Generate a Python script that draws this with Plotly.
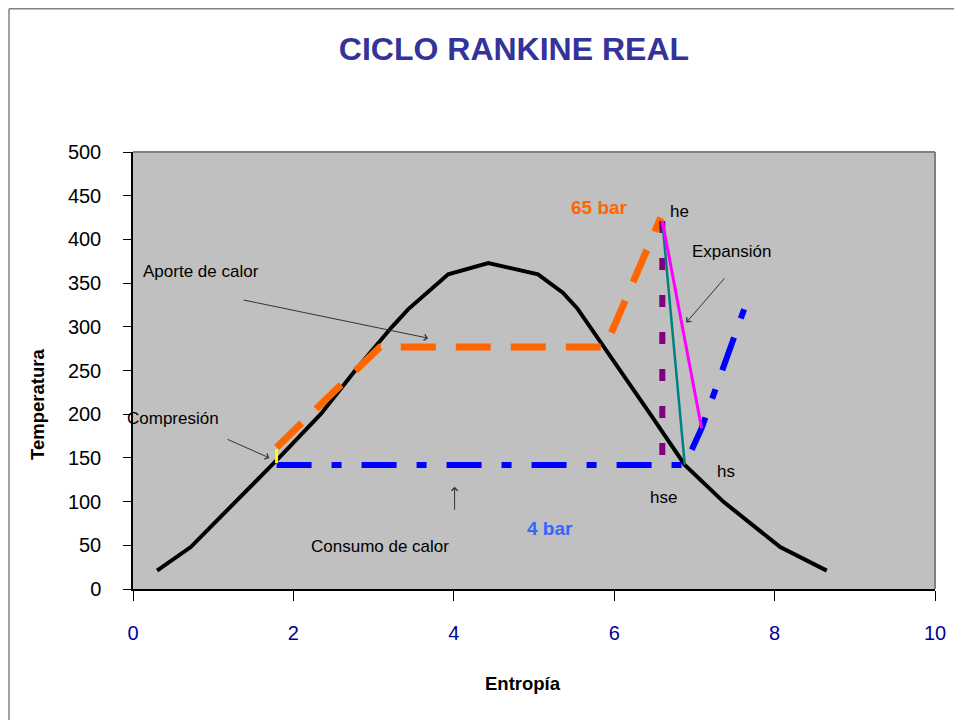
import plotly.graph_objects as go

# ---- data ----
sat_s = [0.30, 0.72, 1.28, 1.82, 2.34, 2.77, 3.23, 3.43, 3.93, 4.43, 5.05, 5.36, 5.54, 5.70, 6.07, 6.45, 6.88, 7.36, 8.07, 8.65]
sat_T = [21, 48, 100, 150, 200, 250, 300, 320, 360, 373, 360, 339, 321, 300, 250, 200, 142, 100, 48, 21]

comp_s = [1.79, 1.79]
comp_T = [144, 160]

heat_s = [1.79, 3.08, 5.89, 6.58]
heat_T = [162, 277, 277, 425]

isen_s = [6.60, 6.60]
isen_T = [421, 145]

teal_s = [6.60, 6.88]
teal_T = [421, 142]

mag_s = [6.60, 7.09]
mag_T = [421, 184]

cond_s = [1.79, 6.88, 7.09, 7.67]
cond_T = [142, 142, 184, 333]

x_ticks = [0, 2, 4, 6, 8, 10]
y_ticks = [0, 50, 100, 150, 200, 250, 300, 350, 400, 450, 500]

FONT = "Liberation Sans, Arial, sans-serif"

fig = go.Figure()
fig.add_trace(go.Scatter(x=sat_s, y=sat_T, mode="lines", line=dict(color="black", width=4)))
fig.add_trace(go.Scatter(x=heat_s, y=heat_T, mode="lines", line=dict(color="#FF6600", width=7, dash="35px,20px")))
fig.add_trace(go.Scatter(x=cond_s, y=cond_T, mode="lines", line=dict(color="#0000FF", width=6, dash="35px,20px,10px,20px")))
fig.add_trace(go.Scatter(x=isen_s, y=isen_T, mode="lines", line=dict(color="#800080", width=6, dash="12px,25px")))
fig.add_trace(go.Scatter(x=teal_s, y=teal_T, mode="lines", line=dict(color="#008080", width=2.5)))
fig.add_trace(go.Scatter(x=mag_s, y=mag_T, mode="lines", line=dict(color="#FF00FF", width=3)))
fig.add_trace(go.Scatter(x=comp_s, y=comp_T, mode="lines", line=dict(color="#FFFF00", width=3)))

ann = []
def txt(x, y, t, size=17, color="#000000", bold=False, xanchor="center", xref="x", yref="y"):
    ann.append(dict(x=x, y=y, xref=xref, yref=yref, text=("<b>%s</b>" % t) if bold else t,
                    showarrow=False, xanchor=xanchor, yanchor="middle",
                    font=dict(family=FONT, size=size, color=color)))

def arrow(x0, y0, x1, y1):
    ann.append(dict(x=x1, y=y1, ax=x0, ay=y0, xref="x", yref="y", axref="x", ayref="y",
                    text="", showarrow=True, arrowhead=4, arrowsize=1.2, arrowwidth=1,
                    arrowcolor="#333333", standoff=0, startstandoff=0))

txt(0.10, 363, "Aporte de calor", xanchor="left")
txt(-0.01, 0.391, "Compresión", xanchor="left", xref="paper", yref="paper")
txt(7.46, 386, "Expansión")
txt(6.82, 432, "he")
txt(7.39, 134, "hs")
txt(6.62, 105, "hse")
txt(5.82, 436, "65 bar", size=19, color="#FF6600", bold=True)
txt(5.20, 69, "4 bar", size=19, color="#3366FF", bold=True)
txt(2.19, 49, "Consumo de calor", xanchor="left")

arrow(1.36, 331, 3.68, 287)
arrow(1.16, 172, 1.70, 150)
arrow(7.39, 357, 6.90, 305)
arrow(4.01, 89, 4.01, 117)

# axis titles
ann.append(dict(x=-0.1197, y=0.421, xref="paper", yref="paper", text="<b>Temperatura</b>",
                textangle=-90, showarrow=False, xanchor="center", yanchor="middle",
                font=dict(family=FONT, size=18.5, color="black")))
ann.append(dict(x=0.486, y=-0.217, xref="paper", yref="paper", text="<b>Entropía</b>",
                showarrow=False, xanchor="center", yanchor="middle",
                font=dict(family=FONT, size=18.5, color="black")))

shapes = [
    # plot-area border (top and right, grey)
    dict(type="line", xref="paper", yref="paper", x0=0, x1=1, y0=1, y1=1, line=dict(color="#808080", width=2)),
    dict(type="line", xref="paper", yref="paper", x0=1, x1=1, y0=0, y1=1, line=dict(color="#808080", width=2)),
    # outer chart border (left and top)
    dict(type="line", xref="paper", yref="paper", x0=-0.1546, x1=-0.1546, y0=-0.4, y1=1.328, line=dict(color="#808080", width=1.5)),
    dict(type="line", xref="paper", yref="paper", x0=-0.1546, x1=1.1, y0=1.328, y1=1.328, line=dict(color="#808080", width=1.5)),
]

fig.update_layout(
    width=962, height=720,
    margin=dict(l=125, r=35, t=144, b=139),
    paper_bgcolor="white", plot_bgcolor="#C0C0C0",
    showlegend=False,
    title=dict(text="<b>CICLO RANKINE REAL</b>", x=0.475, xref="paper", xanchor="center",
               y=1 - 41 / 720, yref="container", yanchor="middle",
               font=dict(family=FONT, size=32, color="#333399")),
    annotations=ann, shapes=shapes,
    xaxis=dict(range=[0, 10], tickvals=x_ticks, showgrid=False, zeroline=False,
               showline=True, linecolor="black", linewidth=1.5,
               ticks="outside", ticklen=10, tickcolor="black", tickwidth=1,
               ticklabelstandoff=15,
               tickfont=dict(family=FONT, size=20, color="#000099")),
    yaxis=dict(range=[0, 500], tickvals=y_ticks, showgrid=False, zeroline=False,
               showline=True, linecolor="black", linewidth=1.5,
               ticks="outside", ticklen=8, tickcolor="black", tickwidth=1,
               ticklabelstandoff=18,
               tickfont=dict(family=FONT, size=20, color="black")),
)

fig.write_html("out.html")
